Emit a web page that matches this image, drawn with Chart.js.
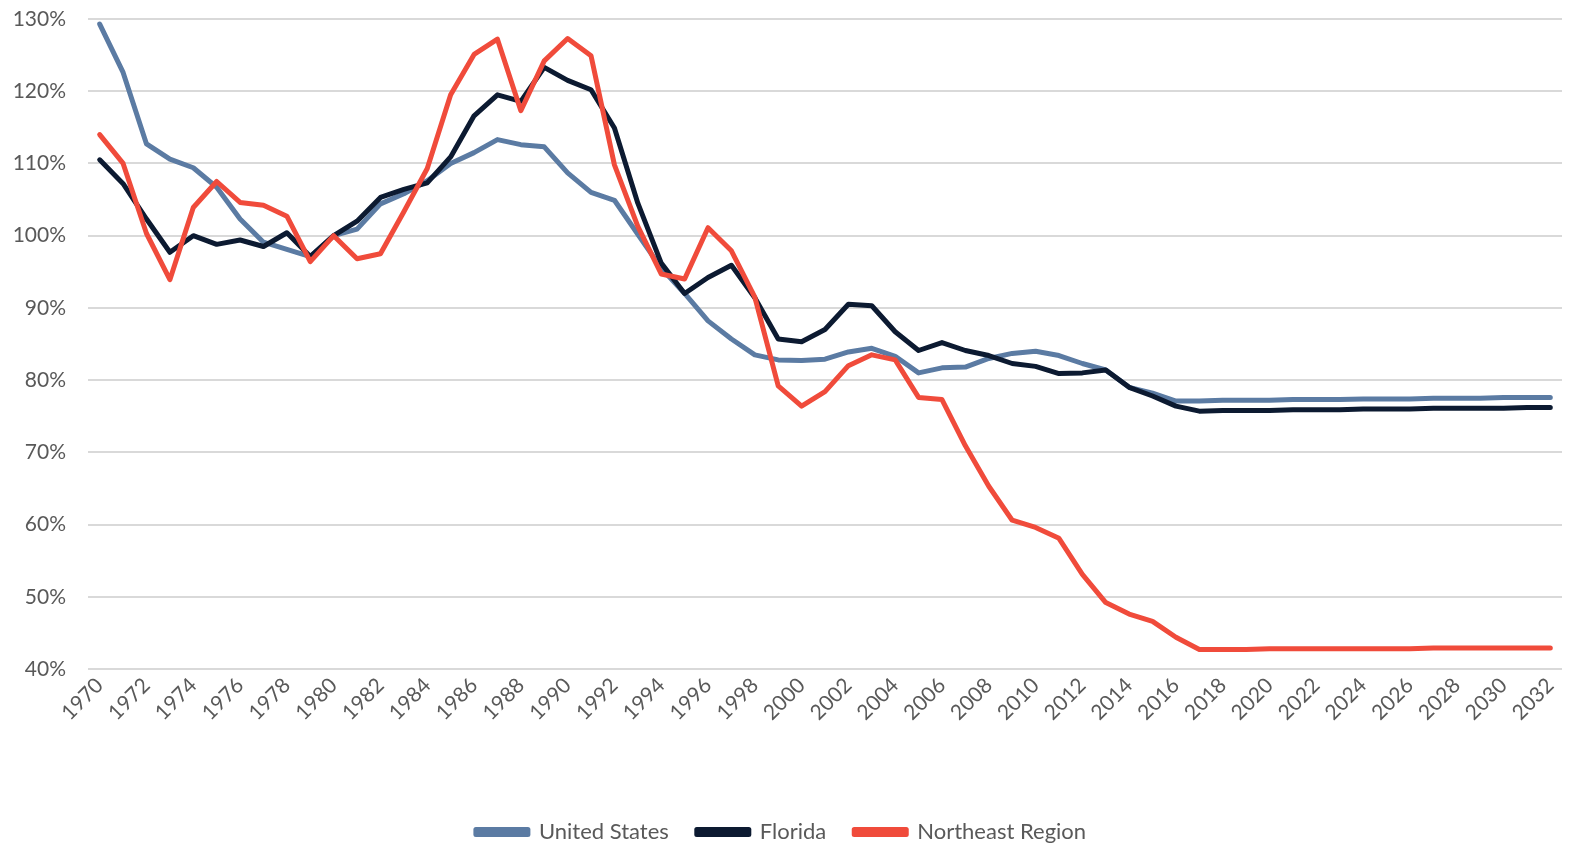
<!DOCTYPE html>
<html>
<head>
<meta charset="utf-8">
<script src="https://cdn.jsdelivr.net/npm/chart.js@4.4.1/dist/chart.umd.min.js"></script>
<style>
  html, body { margin: 0; padding: 0; background: #fff; }
  #wrap { width: 1574px; height: 845px; }
</style>
</head>
<body>
<div id="wrap"><canvas id="ratioChart"></canvas></div>
<script>
// years on the category axis
const years = [];
for (let y = 1970; y <= 2032; y++) years.push(String(y));

// values (share, 1.0 = 100%)
const unitedStates = [
  1.293, 1.226, 1.127, 1.106, 1.094, 1.067, 1.023, 0.991, 0.981, 0.971,
  1.000, 1.009, 1.044, 1.058, 1.076, 1.100, 1.115, 1.133, 1.126, 1.123,
  1.087, 1.060, 1.049, 1.002, 0.955, 0.920, 0.882, 0.857, 0.835, 0.828,
  0.827, 0.829, 0.839, 0.844, 0.833, 0.810, 0.817, 0.818, 0.830, 0.837,
  0.840, 0.834, 0.823, 0.814, 0.790, 0.782, 0.771, 0.771, 0.772, 0.772,
  0.772, 0.773, 0.773, 0.773, 0.774, 0.774, 0.774, 0.775, 0.775, 0.775,
  0.776, 0.776, 0.776
];
const florida = [
  1.105, 1.072, 1.023, 0.977, 1.000, 0.988, 0.994, 0.985, 1.004, 0.971,
  1.000, 1.020, 1.053, 1.064, 1.073, 1.109, 1.166, 1.195, 1.186, 1.233,
  1.215, 1.202, 1.149, 1.045, 0.962, 0.920, 0.942, 0.959, 0.914, 0.857,
  0.853, 0.870, 0.905, 0.903, 0.867, 0.841, 0.852, 0.841, 0.834, 0.823,
  0.819, 0.809, 0.810, 0.814, 0.790, 0.778, 0.764, 0.757, 0.758, 0.758,
  0.758, 0.759, 0.759, 0.759, 0.760, 0.760, 0.760, 0.761, 0.761, 0.761,
  0.761, 0.762, 0.762
];
const northeast = [
  1.140, 1.100, 1.003, 0.939, 1.039, 1.075, 1.046, 1.042, 1.027, 0.964,
  1.000, 0.968, 0.975, 1.033, 1.093, 1.195, 1.251, 1.272, 1.173, 1.242,
  1.273, 1.249, 1.098, 1.013, 0.947, 0.940, 1.011, 0.979, 0.915, 0.792,
  0.764, 0.784, 0.820, 0.835, 0.828, 0.776, 0.773, 0.709, 0.653, 0.606,
  0.596, 0.581, 0.531, 0.492, 0.476, 0.466, 0.444, 0.427, 0.427, 0.427,
  0.428, 0.428, 0.428, 0.428, 0.428, 0.428, 0.428, 0.429, 0.429, 0.429,
  0.429, 0.429, 0.429
];

const seriesNames = ['United States', 'Florida', 'Northeast Region'];
const seriesColors = ['#5b7ba3', '#0c1a31', '#f04b3b'];

const textColor = '#595959';
const fontFamily = 'Lato, "Liberation Sans", sans-serif';

const ctx = document.getElementById('ratioChart').getContext('2d');
const myChart = new Chart(ctx, {
  type: 'line',
  data: {
    labels: years,
    datasets: [unitedStates, florida, northeast].map((vals, i) => ({
      label: seriesNames[i],
      data: vals,
      borderColor: seriesColors[i],
      backgroundColor: seriesColors[i],
      borderWidth: 5,
      pointRadius: 0,
      tension: 0,
      fill: false,
      borderCapStyle: 'round',
      borderJoinStyle: 'round',
      order: 3 - i
    }))
  },
  options: {
    responsive: true,
    maintainAspectRatio: false,
    animation: false,
    layout: { padding: { top: 19, right: 12, left: 0, bottom: -8 } },
    plugins: {
      legend: {
        display: true,
        position: 'bottom',
        labels: {
          boxWidth: 52,
          boxHeight: 5,
          padding: 28,
          color: textColor,
          font: { family: fontFamily, size: 22 },
          sort: (a, b) => a.datasetIndex - b.datasetIndex
        }
      },
      tooltip: { enabled: false }
    },
    scales: {
      x: {
        offset: true,
        grid: { display: false, drawTicks: false },
        border: { display: false },
        ticks: {
          autoSkip: false,
          minRotation: 45,
          maxRotation: 45,
          padding: 4,
          color: textColor,
          font: { family: fontFamily, size: 21 },
          callback: function (v, i) { return i % 2 === 0 ? years[i] : ''; }
        },
        afterFit: (scale) => { scale.height = 124; scale.paddingTop = 0; }
      },
      y: {
        min: 0.4,
        max: 1.3,
        grid: { color: '#d9d9d9', lineWidth: 2, drawTicks: false },
        border: { display: false },
        ticks: {
          stepSize: 0.1,
          padding: 22,
          color: textColor,
          font: { family: fontFamily, size: 21 },
          callback: (v) => Math.round(v * 100) + '%'
        },
        afterFit: (scale) => { scale.width = 88; scale.paddingTop = 0; scale.paddingBottom = 0; }
      }
    }
  }
});
</script>
</body>
</html>
